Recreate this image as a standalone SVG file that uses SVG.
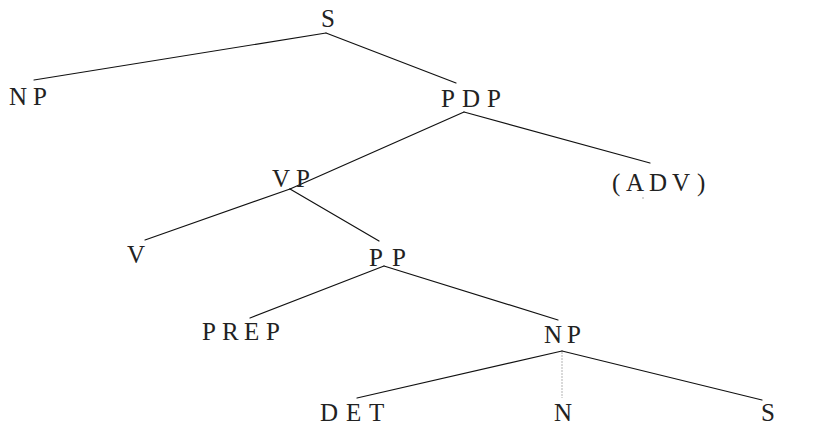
<svg xmlns="http://www.w3.org/2000/svg" width="835" height="428" viewBox="0 0 835 428">
  <defs>
    <style>
      .edge { stroke: #111; stroke-width: 1.2; fill: none; stroke-linecap: round; }
      .faint { stroke: #aaa; stroke-width: 0.9; fill: none; stroke-dasharray: 2 1; }
    </style>
  </defs>
  <rect width="835" height="428" fill="#fff"/>

  <g id="connectors">
    <line class="edge" x1="326" y1="33" x2="34" y2="80"/>
    <line class="edge" x1="326" y1="33" x2="456" y2="83"/>
    <line class="edge" x1="464" y1="112" x2="290" y2="189"/>
    <line class="edge" x1="464" y1="112" x2="650" y2="163"/>
    <line class="edge" x1="290" y1="189" x2="145" y2="240"/>
    <line class="edge" x1="290" y1="189" x2="379" y2="241"/>
    <line class="edge" x1="384" y1="266" x2="250" y2="318"/>
    <line class="edge" x1="384" y1="266" x2="558" y2="320"/>
    <line class="edge" x1="562" y1="351" x2="357" y2="398"/>
    <line class="faint" x1="562" y1="352" x2="562" y2="398"/>
    <line class="edge" x1="562" y1="351" x2="762" y2="400"/>
  </g>

  <!-- labels: serif capitals, spaced letter by letter -->
  <g id="s-root"><text font-family="Liberation Serif" font-size="25" fill="#222" x="321" y="27">S</text></g>
  <g id="np-subject"><text font-family="Liberation Serif" font-size="25" fill="#222" x="9 33" y="105">NP</text></g>
  <g id="pdp"><text font-family="Liberation Serif" font-size="25" fill="#222" x="441 462 487" y="107">PDP</text></g>
  <g id="vp"><text font-family="Liberation Serif" font-size="25" fill="#222" x="272 296" y="187">VP</text></g>
  <g id="adv"><text font-family="Liberation Serif" font-size="25" fill="#222" x="612 626 649 672 697" y="191">(ADV)</text>
    <circle cx="643" cy="198" r="0.7" fill="#888"/></g>
  <g id="v"><text font-family="Liberation Serif" font-size="25" fill="#222" x="127" y="263">V</text></g>
  <g id="pp"><text font-family="Liberation Serif" font-size="25" fill="#222" x="369 392" y="266">PP</text></g>
  <g id="prep"><text font-family="Liberation Serif" font-size="25" fill="#222" x="202 222 244 266" y="340">PREP</text></g>
  <g id="np-object"><text font-family="Liberation Serif" font-size="25" fill="#222" x="544 567" y="343">NP</text></g>
  <g id="det"><text font-family="Liberation Serif" font-size="25" fill="#222" x="320 346 369" y="421">DET</text></g>
  <g id="n"><text font-family="Liberation Serif" font-size="25" fill="#222" x="554" y="421">N</text></g>
  <g id="s-embedded"><text font-family="Liberation Serif" font-size="25" fill="#222" x="761" y="421">S</text></g>
</svg>
